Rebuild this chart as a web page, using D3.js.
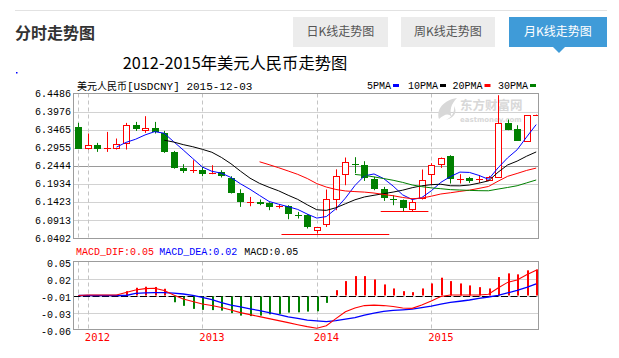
<!DOCTYPE html>
<html><head><meta charset="utf-8">
<script src="https://cdn.jsdelivr.net/npm/d3@7"></script>
<style>
html,body{margin:0;padding:0;background:#fff;}
svg{display:block;}
</style></head>
<body>
<svg id="c" width="619" height="358"></svg>
<script>
// ---------------- data ----------------
const months = ["2011-12","2012-01","2012-02","2012-03","2012-04","2012-05","2012-06","2012-07","2012-08","2012-09","2012-10","2012-11","2012-12",
"2013-01","2013-02","2013-03","2013-04","2013-05","2013-06","2013-07","2013-08","2013-09","2013-10","2013-11","2013-12",
"2014-01","2014-02","2014-03","2014-04","2014-05","2014-06","2014-07","2014-08","2014-09","2014-10","2014-11","2014-12",
"2015-01","2015-02","2015-03","2015-04","2015-05","2015-06","2015-07","2015-08","2015-09","2015-10","2015-11","2015-12"];
const openP  = [6.3545,6.2937,6.3030,6.2937,6.2965,6.3078,6.3593,6.3452,6.3528,6.3376,6.2841,6.2390,6.2320,6.2325,6.2232,6.2261,6.2120,6.1697,6.1430,6.1424,6.1404,6.1308,6.1311,6.1060,6.1058,6.0655,6.0804,6.1506,6.2213,6.2500,6.2466,6.2072,6.1790,6.1503,6.1480,6.1227,6.1556,6.2232,6.2514,6.2720,6.2060,6.2108,6.2060,6.2063,6.2137,6.3669,6.3480,6.3151,6.3875];
const highP  = [6.3658,6.3359,6.3095,6.3404,6.3218,6.3658,6.3686,6.3847,6.3686,6.3433,6.2869,6.2495,6.2607,6.2418,6.2466,6.2325,6.2156,6.1790,6.1573,6.1500,6.1424,6.1368,6.1340,6.1151,6.1086,6.0728,6.1782,6.2349,6.2683,6.2692,6.2579,6.2137,6.1855,6.1621,6.1500,6.1528,6.2345,6.2523,6.2683,6.2748,6.2213,6.2137,6.2185,6.2165,6.4438,6.3754,6.3593,6.3875,6.3890];
const lowP   = [6.2926,6.2908,6.2841,6.2841,6.2908,6.2908,6.3433,6.3376,6.3359,6.2813,6.2368,6.2249,6.2249,6.2156,6.2213,6.2120,6.1669,6.1292,6.1311,6.1340,6.1199,6.1247,6.0945,6.0965,6.0683,6.0542,6.0728,6.1199,6.1903,6.2241,6.2024,6.1762,6.1461,6.1340,6.1171,6.1151,6.1500,6.1903,6.2391,6.1951,6.1951,6.1968,6.1968,6.2044,6.2110,6.3452,6.3151,6.3151,6.3870];
const closeP = [6.2926,6.3030,6.2917,6.2945,6.3058,6.3593,6.3472,6.3528,6.3404,6.2841,6.2396,6.2306,6.2325,6.2213,6.2235,6.2137,6.1697,6.1433,6.1436,6.1368,6.1292,6.1313,6.1078,6.1055,6.0711,6.0728,6.1528,6.2168,6.2559,6.2490,6.2092,6.1790,6.1528,6.1497,6.1247,6.1432,6.2063,6.2486,6.2683,6.2063,6.2066,6.2016,6.2066,6.2137,6.3669,6.3480,6.3151,6.3875,6.3880];

const difValues  = [0,0.0008,0.0008,0.0008,0.0008,0.0049,0.0090,0.0111,0.0117,0.0081,0.0008,-0.0057,-0.0098,-0.0138,-0.0163,-0.0195,-0.0236,-0.0277,-0.0309,-0.0342,-0.0374,-0.0407,-0.0439,-0.0472,-0.0504,-0.0529,-0.0488,-0.0374,-0.0264,-0.0203,-0.0163,-0.0155,-0.0163,-0.0179,-0.0203,-0.0208,-0.0155,-0.0090,-0.0016,0.0008,0.0008,0.0008,0.0008,0.0020,0.0122,0.0212,0.0252,0.0334,0.0407];
const deaValues  = [0,0,0,0,0,0,0.0033,0.0041,0.0046,0.0046,0.0037,0.0024,0.0003,-0.0029,-0.0068,-0.0114,-0.0155,-0.0184,-0.0215,-0.0244,-0.0277,-0.0309,-0.0345,-0.0371,-0.0399,-0.0410,-0.0423,-0.0407,-0.0382,-0.0358,-0.0317,-0.0285,-0.0257,-0.0241,-0.0231,-0.0220,-0.0195,-0.0171,-0.0138,-0.0111,-0.0093,-0.0073,-0.0046,-0.0024,0.0003,0.0041,0.0081,0.0130,0.0187];
const macdValues = [0,0,0,0,0,0.0070,0.0125,0.0142,0.0138,0.0109,-0.0093,-0.0151,-0.0200,-0.0216,-0.0220,-0.0228,-0.0269,-0.0309,-0.0317,-0.0309,-0.0288,-0.0282,-0.0260,-0.0256,-0.0244,-0.0239,-0.0103,0.0086,0.0233,0.0314,0.0314,0.0260,0.0179,0.0114,0.0070,0.0054,0.0114,0.0195,0.0288,0.0233,0.0195,0.0163,0.0135,0.0114,0.0298,0.0358,0.0342,0.0407,0.0423];

const priceTicks = [6.4486,6.3976,6.3465,6.2955,6.2444,6.1934,6.1423,6.0913,6.0402];
const macdTicks = [0.055,0.0275,0,-0.0275,-0.055];
const macdTickLabels = ["0.05","0.02","-0.01","-0.03","-0.06"];
const yearLabels = ["2012","2013","2014","2015"];
const yearStartMonths = ["2012-01","2013-01","2014-01","2015-01"];
const dashedMonths = ["2011-12","2012-01","2013-01","2014-01","2015-01"];
const maPeriods = [5,10,20,30];
const maNames = ["5PMA","10PMA","20PMA","30PMA"];
const macdLegend = ["MACD_DIF:0.05","MACD_DEA:0.02","MACD:0.05"];
const supportLevels = [6.0542, 6.1171];
const supportFrom = [21.3, 31.7];   // month index range
const supportTo = [32.6, 36.7];
const pageTitle = "分时走势图";
const tabLabels = ["日K线走势图","周K线走势图","月K线走势图"];
const chartTitle = "2012-2015年美元人民币走势图";
const subName = "美元人民币";
const subCode = "[USDCNY] 2015-12-03";

// ---------------- style / layout ----------------
const RED = "#ff0000", GREEN = "#008000", BLUE = "#0000ff", BLACK = "#000";
const maColors = [BLUE, BLACK, RED, GREEN];
const MONO = "'Liberation Mono','DejaVu Sans Mono',monospace";
const CJK = "'Noto Sans CJK SC','Noto Sans',sans-serif";
const P = {l:73.5, r:538.5, t:93.5, b:238.5};
const M = {t:261.5, b:329.5};

const svg = d3.select("#c");

// header
svg.append("line").attr("x1",15).attr("x2",607).attr("y1",10.5).attr("y2",10.5).attr("stroke","#e2e2e2");
svg.append("text").attr("x",15).attr("y",39).text(pageTitle)
  .attr("font-family",CJK).attr("font-size",16).attr("font-weight","bold").attr("fill","#333");
const tabX = [293, 401, 509], tabW = [95, 94, 98];
tabLabels.forEach((t,i)=>{
  const active = i===2;
  svg.append("rect").attr("x",tabX[i]).attr("y",17).attr("width",tabW[i]).attr("height",30)
    .attr("fill", active ? "#3f9bd8" : "#ececec");
  svg.append("text").attr("x",tabX[i]+tabW[i]/2).attr("y",36).attr("text-anchor","middle")
    .attr("font-family",CJK).attr("font-size",12).attr("fill", active ? "#fff" : "#555").text(t);
});
svg.append("path").attr("d","M553,47 L565,47 L559,53 Z").attr("fill","#3f9bd8");
svg.append("rect").attr("x",16).attr("y",72).attr("width",1.5).attr("height",1.5).attr("fill",BLUE);

// chart title
svg.append("text").attr("x",235).attr("y",69).attr("text-anchor","middle")
  .attr("font-family",CJK).attr("font-size",16.3).attr("fill","#000").text(chartTitle);

// scales
const x = d3.scaleLinear().domain([0, months.length-1]).range([78.3, 536.2]);
const xi = mo => x(months.indexOf(mo));
const y = d3.scaleLinear().domain([6.0402, 6.4486]).range([P.b, P.t]);
const m = d3.scaleLinear().domain([-0.055, 0.055]).range([M.b, M.t]);

svg.append("defs").html(
  `<clipPath id="clipMain"><rect x="${P.l}" y="${P.t}" width="${P.r-P.l}" height="${P.b-P.t}"/></clipPath>
   <clipPath id="clipMacd"><rect x="${P.l}" y="${M.t}" width="${P.r-P.l}" height="${M.b-M.t}"/></clipPath>`);

// subtitle + legend
const st = svg.append("text").attr("x",77).attr("y",90).attr("fill","#000");
st.append("tspan").attr("font-family",CJK).attr("font-size",10).text(subName);
st.append("tspan").attr("font-family",MONO).attr("font-size",11).text(subCode);
const legX = [367, 408, 452.5, 498];
maNames.forEach((n,i)=>{
  svg.append("text").attr("x",legX[i]).attr("y",89).attr("font-family",MONO).attr("font-size",10).text(n);
  svg.append("rect").attr("x",legX[i]+n.length*6+2).attr("y",84).attr("width",6).attr("height",3).attr("fill",maColors[i]);
});

// main grid
priceTicks.forEach((v,i)=>{
  if (i===0 || i===priceTicks.length-1) return;
  const yy = Math.round(y(v))+0.5;
  svg.append("line").attr("x1",P.l).attr("x2",P.r).attr("y1",yy).attr("y2",yy)
    .attr("stroke", i===4 ? "#9a9a9a" : "#d2d2d2");
});
// macd grid
macdTicks.forEach((v,i)=>{
  if (i===0 || i===macdTicks.length-1) return;
  const yy = Math.round(m(v))+0.5;
  svg.append("line").attr("x1",P.l).attr("x2",P.r).attr("y1",yy).attr("y2",yy).attr("stroke","#d2d2d2");
});
// vertical dashed lines
dashedMonths.forEach(mo=>{
  const xx = Math.round(xi(mo))+0.5;
  [[P.t,P.b],[M.t,M.b]].forEach(([a,b])=>{
    svg.append("line").attr("x1",xx).attr("x2",xx).attr("y1",a).attr("y2",b)
      .attr("stroke","#c4c4c4").attr("stroke-dasharray","4,3");
  });
});

// watermark
const wm = svg.append("g").attr("fill","#d8d8d8");
wm.append("path").attr("d","M439,119 C436,109 444,100 457,98 C451,104 449,111 452,117 C448,113 445,114 439,119 Z");
wm.append("path").attr("d","M446,120 C452,117 455,112 454,106 C457,111 456,117 446,120 Z");
wm.append("text").attr("x",460).attr("y",109.5).attr("font-family",CJK).attr("font-size",12.5).attr("font-weight","bold").text("东方财富网");
wm.append("text").attr("x",460).attr("y",122).attr("font-family","'DejaVu Sans',sans-serif").attr("font-size",7).attr("font-weight","bold").text("eastmoney.com");

// axes labels
const yAxis = d3.axisLeft(y).tickValues(priceTicks).tickFormat(d3.format(".4f")).tickSize(0).tickPadding(0);
const gy = svg.append("g").attr("transform","translate(71,-0.5)").call(yAxis);
gy.select(".domain").remove();
gy.selectAll("text").attr("font-family",MONO).attr("font-size",10).attr("fill","#000");

const mAxis = d3.axisLeft(m).tickValues(macdTicks).tickFormat((d,i)=>macdTickLabels[i]).tickSize(0).tickPadding(0);
const gm = svg.append("g").attr("transform","translate(71,1.5)").call(mAxis);
gm.select(".domain").remove();
gm.selectAll("text").attr("font-family",MONO).attr("font-size",10).attr("fill","#000");

const xAxis = d3.axisBottom(x).tickValues(yearStartMonths.map(mo=>months.indexOf(mo)))
  .tickFormat((d,i)=>yearLabels[i]).tickSize(0).tickPadding(0);
const gx = svg.append("g").attr("transform","translate(0,334)").call(xAxis);
gx.select(".domain").remove();
gx.selectAll("text").attr("font-family","'DejaVu Sans Mono',monospace").attr("font-size",10.5)
  .attr("fill",RED).attr("text-anchor","start").attr("dx",-3.5);

// support lines
const gMain = svg.append("g").attr("clip-path","url(#clipMain)");
supportLevels.forEach((lv,i)=>{
  const yy = Math.round(y(lv))+0.5;
  gMain.append("line").attr("x1",x(supportFrom[i])).attr("x2",x(supportTo[i])).attr("y1",yy).attr("y2",yy).attr("stroke",RED);
});

// candles
months.forEach((mo,i)=>{
  const cx = Math.round(x(i));
  const o=openP[i], c=closeP[i], h=highP[i], l=lowP[i];
  const up = c >= o;
  const col = up ? RED : GREEN;
  const yt = y(Math.max(o,c)), yb = y(Math.min(o,c));
  const bh = yb - yt;
  const wx = cx + 0.5;
  if (bh < 1.5) {
    gMain.append("line").attr("x1",wx).attr("x2",wx).attr("y1",y(h)).attr("y2",y(l)).attr("stroke",col);
    const hy = Math.round(yt)+0.5;
    gMain.append("line").attr("x1",cx-3).attr("x2",cx+4).attr("y1",hy).attr("y2",hy).attr("stroke",col);
  } else if (up) {
    const t = Math.round(yt)+0.5, b = Math.round(yb)+0.5;
    gMain.append("line").attr("x1",wx).attr("x2",wx).attr("y1",y(h)).attr("y2",t).attr("stroke",col);
    gMain.append("line").attr("x1",wx).attr("x2",wx).attr("y1",b).attr("y2",y(l)).attr("stroke",col);
    gMain.append("rect").attr("x",cx-2.5).attr("y",t).attr("width",6).attr("height",b-t)
      .attr("fill","#fff").attr("stroke",col);
  } else {
    gMain.append("line").attr("x1",wx).attr("x2",wx).attr("y1",y(h)).attr("y2",y(l)).attr("stroke",col);
    gMain.append("rect").attr("x",cx-3).attr("y",Math.round(yt)).attr("width",7).attr("height",Math.max(1,Math.round(bh)))
      .attr("fill",col);
  }
});

// moving averages of the closes
maPeriods.forEach((n,k)=>{
  const vals = closeP.map((c,i)=> i < n-1 ? null : d3.mean(closeP.slice(i-n+1, i+1)));
  const ln = d3.line().defined(d=>d!==null).x((d,i)=>x(i)).y(d=>y(d));
  gMain.append("path").datum(vals).attr("d",ln).attr("fill","none").attr("stroke",maColors[k]).attr("stroke-width",1);
});

// MACD panel
svg.append("g").selectAll("text").data(macdLegend).join("text")
  .attr("x",(d,i)=>[76,159.3,244.3][i]).attr("y",254.5)
  .attr("font-family",MONO).attr("font-size",10).attr("fill",(d,i)=>[RED,BLUE,BLACK][i]).text(d=>d);

const gM = svg.append("g").attr("clip-path","url(#clipMacd)");
const zy = Math.round(m(0))+0.5;
gM.append("line").attr("x1",P.l).attr("x2",P.r).attr("y1",zy).attr("y2",zy)
  .attr("stroke",BLACK).attr("stroke-dasharray","7,2.5");
macdValues.forEach((v,i)=>{
  if (v===0) return;
  const cx = Math.round(x(i));
  gM.append("rect").attr("x",cx).attr("width",2)
    .attr("y", v>0 ? m(v) : zy).attr("height", Math.abs(m(v)-m(0)))
    .attr("fill", v>0 ? RED : GREEN);
});
const lnM = d3.line().x((d,i)=>x(i)).y(d=>m(d));
gM.append("path").datum(deaValues).attr("d",lnM).attr("fill","none").attr("stroke",BLUE).attr("stroke-width",1.3);
gM.append("path").datum(difValues).attr("d",lnM).attr("fill","none").attr("stroke",RED).attr("stroke-width",1.1);

// borders
[[P.t,P.b],[M.t,M.b]].forEach(([a,b])=>{
  svg.append("rect").attr("x",P.l).attr("y",a).attr("width",P.r-P.l).attr("height",b-a)
    .attr("fill","none").attr("stroke","#9c9c9c");
});
</script>
</body></html>
